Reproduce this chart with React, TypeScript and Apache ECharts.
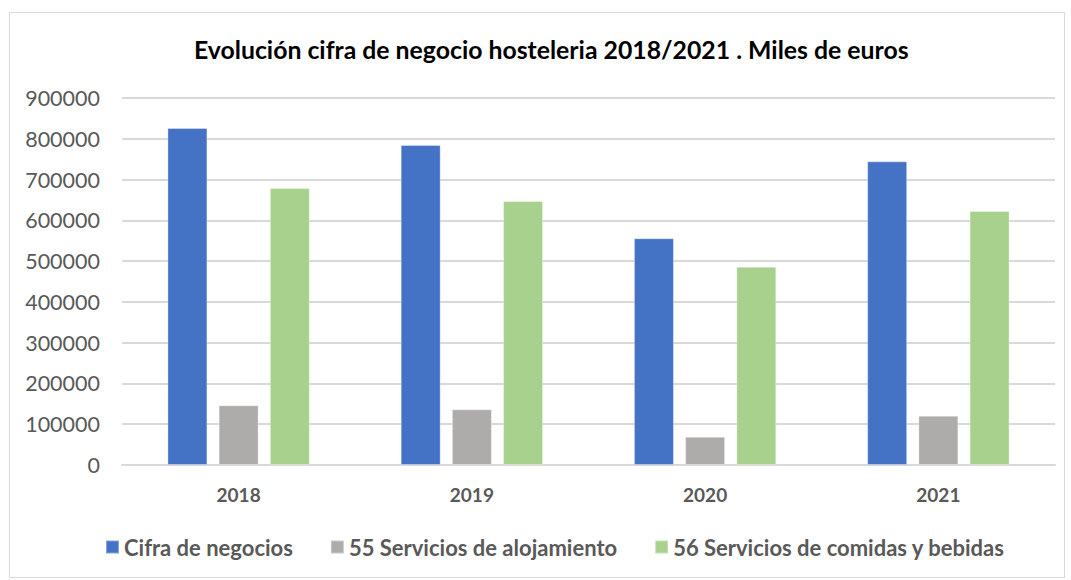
import React, { useEffect, useRef } from "react";
import * as echarts from "echarts";

const categories = ["2018", "2019", "2020", "2021"];
const seriesNames = [
  "Cifra de negocios",
  "55 Servicios de alojamiento",
  "56 Servicios de comidas y bebidas",
];
const cifraNegocios = [826400, 784700, 556000, 744700];
const alojamiento = [146400, 136600, 69400, 121000];
const comidasBebidas = [679300, 647500, 486300, 622900];
const colors = ["#4472C4", "#AEABAB", "#A9D18E"];

export default function App() {
  const ref = useRef<HTMLDivElement>(null);
  useEffect(() => {
    if (!ref.current) return;
    const chart = echarts.init(ref.current, null, { renderer: "svg" });
    const font = "Lato, 'Open Sans', sans-serif";
    const data = [cifraNegocios, alojamiento, comidasBebidas];
    chart.setOption({
      animation: false,
      backgroundColor: "#ffffff",
      graphic: [
        {
          type: "rect",
          shape: { x: 9.5, y: 12.5, width: 1055, height: 565 },
          style: { fill: "none", stroke: "#d9d9d9", lineWidth: 1 },
          silent: true,
        },
      ],
      title: {
        text: "Evolución cifra de negocio hosteleria 2018/2021 . Miles de euros",
        left: 189,
        top: 32,
        textStyle: { fontFamily: font, fontWeight: "bold", fontSize: 24.8, color: "#000" },
      },
      legend: {
        bottom: 17,
        left: 100,
        itemWidth: 13,
        itemHeight: 13,
        itemGap: 37,
        itemTextGap: 4,
        icon: "rect",
        textStyle: { fontFamily: font, fontWeight: "bold", fontSize: 22, color: "#595959" },
        data: seriesNames,
      },
      grid: { left: 122, right: 16, top: 98, bottom: 115, containLabel: false },
      xAxis: {
        type: "category",
        data: categories,
        axisLine: { lineStyle: { color: "#d9d9d9", width: 2 } },
        axisTick: { show: false },
        axisLabel: { fontFamily: font, fontWeight: "bold", fontSize: 19, color: "#595959", margin: 20 },
      },
      yAxis: {
        type: "value",
        min: 0,
        max: 900000,
        interval: 100000,
        axisLine: { show: false },
        axisTick: { show: false },
        splitLine: { lineStyle: { color: "#d9d9d9", width: 2 } },
        axisLabel: {
          fontFamily: font,
          fontSize: 21.5,
          color: "#595959",
          margin: 22,
          formatter: (v: number) => String(v),
        },
      },
      series: seriesNames.map((name, i) => ({
        name,
        type: "bar",
        data: data[i],
        barWidth: 40,
        barGap: "28%",
        itemStyle: { color: colors[i], borderColor: "rgba(255,255,255,0.35)", borderWidth: 1 },
      })),
    });
    return () => chart.dispose();
  }, []);
  return (
    <div
      ref={ref}
      style={{ position: "absolute", left: 0, top: 0, width: 1071, height: 580 }}
    />
  );
}
